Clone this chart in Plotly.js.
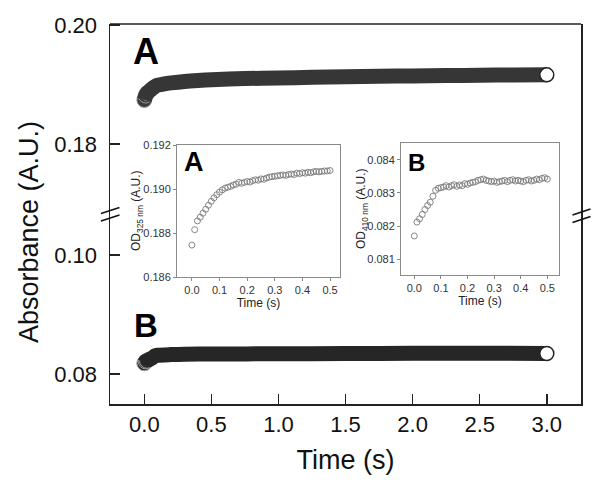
<!DOCTYPE html>
<html><head><meta charset="utf-8">
<script src="https://cdn.plot.ly/plotly-3.0.1.min.js"></script>
<style>html,body{margin:0;padding:0;background:#fff}#chart{width:601px;height:493px}</style>
</head><body><div id="chart"></div>
<script>
// ---- Main panel data ----
const timeMainA = [0, 0.01, 0.02, 0.04, 0.06, 0.08, 0.10, 0.15, 0.20, 0.30, 0.40, 0.50, 0.75, 1.00, 1.25, 1.50, 1.75, 2.00, 2.25, 2.50, 2.75, 3.00];
const absMainA  = [0.1874, 0.18815, 0.18855, 0.18895, 0.18935, 0.18968, 0.18988, 0.19012, 0.19028, 0.19052, 0.19068, 0.19080, 0.19100, 0.19110, 0.19120, 0.19130, 0.19138, 0.19145, 0.19150, 0.19155, 0.19160, 0.19162];
const timeMainB = [0, 0.01, 0.02, 0.04, 0.06, 0.08, 0.10, 0.20, 0.30, 0.50, 1.00, 1.50, 2.00, 2.50, 3.00];
const absMainB  = [0.0818, 0.08212, 0.08222, 0.0825, 0.08272, 0.08305, 0.08316, 0.08326, 0.08332, 0.08336, 0.0834, 0.08344, 0.08347, 0.08349, 0.08345];

// ---- Inset data (first 0.5 s) ----
const timeInset = [0.00,0.01,0.02,0.03,0.04,0.05,0.06,0.07,0.08,0.09,0.10,0.11,0.12,0.13,0.14,0.15,0.16,0.17,0.18,0.19,0.20,0.21,0.22,0.23,0.24,0.25,0.26,0.27,0.28,0.29,0.30,0.31,0.32,0.33,0.34,0.35,0.36,0.37,0.38,0.39,0.40,0.41,0.42,0.43,0.44,0.45,0.46,0.47,0.48,0.49,0.50];
const odInsetA = [0.18745,0.18815,0.18855,0.18872,0.18890,0.18908,0.18926,0.18944,0.18960,0.18974,0.18986,0.18996,0.19004,0.19008,0.19012,0.19018,0.19022,0.19030,0.19026,0.19030,0.19034,0.19032,0.19038,0.19042,0.19040,0.19046,0.19044,0.19050,0.19054,0.19056,0.19058,0.19060,0.19062,0.19064,0.19062,0.19066,0.19068,0.19066,0.19072,0.19070,0.19074,0.19072,0.19076,0.19074,0.19078,0.19080,0.19078,0.19080,0.19082,0.19082,0.19084];
const odInsetB = [0.08170,0.08212,0.08222,0.08235,0.08250,0.08262,0.08272,0.08290,0.08308,0.08314,0.08316,0.08318,0.08322,0.08318,0.08322,0.08325,0.08320,0.08324,0.08322,0.08328,0.08326,0.08330,0.08332,0.08334,0.08338,0.08340,0.08342,0.08338,0.08336,0.08334,0.08336,0.08332,0.08334,0.08336,0.08338,0.08334,0.08338,0.08340,0.08336,0.08338,0.08336,0.08334,0.08338,0.08340,0.08336,0.08338,0.08342,0.08340,0.08344,0.08346,0.08342];

const mainXTicks = [0, 0.5, 1.0, 1.5, 2.0, 2.5, 3.0];
const topYTicks = [0.18, 0.20];
const botYTicks = [0.08, 0.10];
const insetXTicks = [0, 0.1, 0.2, 0.3, 0.4, 0.5];
const insetAYTicks = [0.186, 0.188, 0.190, 0.192];
const insetBYTicks = [0.081, 0.082, 0.083, 0.084];

// ---- geometry helpers (pixel -> paper) ----
const L = 110, R = 581, T = 24, B = 404;
const px = x => (x - L) / (R - L);
const py = y => (B - y) / (B - T);
const brk = py(213);
const FONT = 'Liberation Sans, Arial, Helvetica, sans-serif';

function lastOf(a){ return a[a.length-1]; }

const traces = [
  // A band
  {x: timeMainA.slice(0,3), y: absMainA.slice(0,3), xaxis:'x', yaxis:'y2', mode:'markers', type:'scatter',
   marker:{size:15, color:'#3a3a3a', line:{color:'#a0a0a0', width:1}}, hoverinfo:'skip'},
  {x: timeMainA, y: absMainA, xaxis:'x', yaxis:'y2', mode:'lines', type:'scatter',
   line:{color:'#363636', width:15, shape:'spline', smoothing:0.7}, hoverinfo:'skip'},
  {x: [lastOf(timeMainA)], y: [lastOf(absMainA)], xaxis:'x', yaxis:'y2', mode:'markers', type:'scatter',
   marker:{size:14, color:'#ffffff', line:{color:'#222', width:1.5}}},
  // B band
  {x: timeMainB.slice(0,3), y: absMainB.slice(0,3), xaxis:'x', yaxis:'y', mode:'markers', type:'scatter',
   marker:{size:15, color:'#2a2a2a', line:{color:'#a0a0a0', width:1}}, hoverinfo:'skip'},
  {x: timeMainB, y: absMainB, xaxis:'x', yaxis:'y', mode:'lines', type:'scatter',
   line:{color:'#262626', width:15, shape:'spline', smoothing:0.7}, hoverinfo:'skip'},
  {x: [lastOf(timeMainB)], y: [lastOf(absMainB)], xaxis:'x', yaxis:'y', mode:'markers', type:'scatter',
   marker:{size:14, color:'#ffffff', line:{color:'#222', width:1.5}}},
  // insets
  {x: timeInset, y: odInsetA, xaxis:'x2', yaxis:'y3', mode:'markers', type:'scatter',
   marker:{symbol:'circle-open', size:6, color:'#7a7a7a', line:{width:0.9}}},
  {x: timeInset, y: odInsetB, xaxis:'x3', yaxis:'y4', mode:'markers', type:'scatter',
   marker:{symbol:'circle-open', size:6, color:'#7a7a7a', line:{width:0.9}}}
];

const mainAxisCommon = {
  ticks:'inside', ticklen:10, tickwidth:1.5, tickcolor:'#222', showline:true, linecolor:'#222', linewidth:1.5,
  showgrid:false, zeroline:false, tickfont:{size:22, color:'#111', family:FONT}
};
const insetAxisCommon = {
  ticks:'outside', ticklen:3, tickwidth:1, tickcolor:'#888', showline:true, linecolor:'#8a8a8a', linewidth:1,
  mirror:true, showgrid:false, zeroline:false, tickfont:{size:11, color:'#333', family:FONT}
};

const slash = (x0,y0,x1,y1) => ({type:'line', xref:'paper', yref:'paper', x0:px(x0), y0:py(y0), x1:px(x1), y1:py(y1), line:{color:'#111', width:1.5}});

const layout = {
  width:601, height:493,
  margin:{l:L, r:601-R, t:T, b:493-B},
  paper_bgcolor:'#ffffff', plot_bgcolor:'rgba(0,0,0,0)',
  showlegend:false,
  font:{family:FONT, color:'#111'},
  xaxis: Object.assign({}, mainAxisCommon, {domain:[0,1], anchor:'y', range:[-0.256,3.255], tickvals:mainXTicks, tickformat:'.1f', ticklabelstandoff:0,
    title:{text:'Time (s)', font:{size:27, family:FONT, color:'#111'}, standoff:14}}),
  yaxis: Object.assign({}, mainAxisCommon, {domain:[0,brk], anchor:'x', range:[0.07496,0.10706], tickvals:botYTicks, tickformat:'.2f', mirror:true, ticklabelstandoff:7}),
  yaxis2: Object.assign({}, mainAxisCommon, {domain:[brk,1], anchor:'x', range:[0.1684,0.20017], tickvals:topYTicks, tickformat:'.2f', mirror:true, ticklabelstandoff:7}),
  xaxis2: Object.assign({}, insetAxisCommon, {domain:[px(177),px(340)], anchor:'y3', range:[-0.054,0.536], tickvals:insetXTicks, tickformat:'.1f',
    title:{text:'Time (s)', font:{size:12, family:FONT, color:'#222'}, standoff:3}}),
  yaxis3: Object.assign({}, insetAxisCommon, {domain:[py(277),py(145)], anchor:'x2', range:[0.186,0.192], tickvals:insetAYTicks, tickformat:'.3f'}),
  xaxis3: Object.assign({}, insetAxisCommon, {domain:[px(401),px(559)], anchor:'y4', range:[-0.05,0.544], tickvals:insetXTicks, tickformat:'.1f',
    title:{text:'Time (s)', font:{size:12, family:FONT, color:'#222'}, standoff:3}}),
  yaxis4: Object.assign({}, insetAxisCommon, {domain:[py(275),py(143.3)], anchor:'x3', range:[0.08052,0.0845], tickvals:insetBYTicks, tickformat:'.3f'}),
  shapes: [
    {type:'line', xref:'paper', yref:'paper', x0:0, x1:1, y0:1, y1:1, line:{color:'#222', width:1.5}},
    slash(101,213.5,119.5,207.5), slash(101,221,119.5,215),
    slash(572.5,215,590.5,209), slash(572.5,222.5,590.5,216.5)
  ],
  annotations: [
    {text:'Absorbance (A.U.)', xref:'paper', yref:'paper', x:px(29), y:py(232), textangle:-90, showarrow:false,
     xanchor:'center', yanchor:'middle', font:{size:27, family:FONT, color:'#111'}},
    {text:'<b>A</b>', xref:'paper', yref:'paper', x:px(146), y:py(51), showarrow:false, xanchor:'center', yanchor:'middle',
     font:{size:36, family:FONT, color:'#000'}},
    {text:'<b>B</b>', xref:'paper', yref:'paper', x:px(146), y:py(325), showarrow:false, xanchor:'center', yanchor:'middle',
     font:{size:33, family:FONT, color:'#000'}},
    {text:'<b>A</b>', xref:'paper', yref:'paper', x:px(194), y:py(162), showarrow:false, xanchor:'center', yanchor:'middle',
     font:{size:27, family:FONT, color:'#000'}},
    {text:'<b>B</b>', xref:'paper', yref:'paper', x:px(416), y:py(162), showarrow:false, xanchor:'center', yanchor:'middle',
     font:{size:24, family:FONT, color:'#000'}},
    {text:'OD<sub>325 nm</sub> (A.U.)', xref:'paper', yref:'paper', x:px(137), y:py(211), textangle:-90, showarrow:false,
     xanchor:'center', yanchor:'middle', font:{size:12, family:FONT, color:'#222'}},
    {text:'OD<sub>410 nm</sub> (A.U.)', xref:'paper', yref:'paper', x:px(362), y:py(209), textangle:-90, showarrow:false,
     xanchor:'center', yanchor:'middle', font:{size:12, family:FONT, color:'#222'}}
  ]
};

Plotly.newPlot('chart', traces, layout, {displayModeBar:false, staticPlot:true});
</script>
</body></html>
